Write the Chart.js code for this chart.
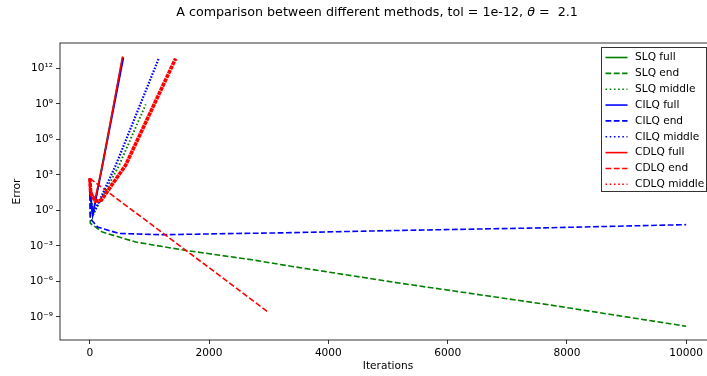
<!DOCTYPE html>
<html><head><meta charset="utf-8">
<script src="https://cdn.jsdelivr.net/npm/chart.js@4.4.0/dist/chart.umd.min.js"></script>
<style>
html,body{margin:0;padding:0;overflow:hidden;background:#fff;width:707px;height:376px}
#wrap{position:relative;width:754px;height:376px}
canvas{display:block}
</style></head><body>
<div id="wrap"><canvas id="c" width="754" height="376"></canvas></div>
<script>
// ---- text ----
const titleMain = 'A comparison between different methods, tol = 1e-12, ';
const titleSymbol = 'θ';
const titleTail = ' =  2.1';
const xAxisTitle = 'Iterations';
const yAxisTitle = 'Error';

// ---- ticks ----
const xTickValues = [0, 2000, 4000, 6000, 8000, 10000];
const yTickValues = [1e-9, 1e-6, 1e-3, 1, 1e3, 1e6, 1e9, 1e12];
const yTickLabels = ['10⁻⁹', '10⁻⁶', '10⁻³', '10⁰', '10³', '10⁶', '10⁹', '10¹²'];

// ---- series names ----
const seriesNames = ['SLQ full', 'SLQ end', 'SLQ middle', 'CILQ full', 'CILQ end', 'CILQ middle', 'CDLQ full', 'CDLQ end', 'CDLQ middle'];

// ---- series values (iteration, error) ----
const slqFullX = [0, 8, 45, 555];
const slqFullY = [500, 30, 0.4, 1e13];
const slqEndX = [0, 8, 210, 770, 1610, 2720, 3370, 5210, 7720, 10000];
const slqEndY = [500, 0.08, 0.0145, 0.0021, 4.1e-4, 6.6e-5, 1.9e-5, 6.9e-7, 1e-8, 1.6e-10];
const slqMidX = [0, 10, 50, 491, 938];
const slqMidY = [500, 20, 0.4, 6.5e3, 9e8];

const cilqFullX = [0, 8, 50, 214, 565];
const cilqFullY = [500, 30, 0.38, 6.5e3, 8e12];
const cilqEndX = [0, 8, 130, 486, 1220, 2160, 3230, 5260, 7720, 10000];
const cilqEndY = [500, 0.2, 0.039, 0.0112, 0.0087, 0.0105, 0.0126, 0.0204, 0.034, 0.062];
const cilqMidX = [0, 10, 50, 435, 1161];
const cilqMidY = [500, 20, 0.4, 6.5e3, 8e12];

const cdlqFullX = [0, 10, 85, 213, 547];
const cdlqFullY = [500, 50, 8, 6e3, 1e13];
const cdlqEndX = [0, 1690, 2980];
const cdlqEndY = [500, 2.1e-4, 2.75e-9];
const cdlqMidX = [0, 15, 90, 190, 600, 1440];
const cdlqMidY = [500, 30, 6, 7, 6.5e3, 7e12];

// ---- styles ----
const FONT = 'DejaVu Sans';
const FS = 10.6, TFS = 12.7;
const GREEN = '#008000', BLUE = '#0000ff', RED = '#ff0000';
const DASHED = [5.8, 2.5], DOTTED = [1.6, 2.6];

const seriesX = [slqFullX, slqEndX, slqMidX, cilqFullX, cilqEndX, cilqMidX, cdlqFullX, cdlqEndX, cdlqMidX];
const seriesY = [slqFullY, slqEndY, slqMidY, cilqFullY, cilqEndY, cilqMidY, cdlqFullY, cdlqEndY, cdlqMidY];
const seriesColor = [GREEN, GREEN, GREEN, BLUE, BLUE, BLUE, RED, RED, RED];
const seriesDash = [[], DASHED, DOTTED, [], DASHED, DOTTED, [], DASHED, DOTTED];
const plotDash = [[], DASHED, [1.6, 2], [], DASHED, [1.6, 1.5], [], DASHED, [4, 0.7]];
const plotWidth = [1.6, 1.6, 1.9, 1.6, 1.6, 2.2, 1.6, 1.6, 3.6];

const datasets = seriesNames.map((name, i) => ({
  label: name,
  data: seriesX[i].map((x, k) => ({x: x, y: seriesY[i][k]})),
  borderColor: seriesColor[i],
  backgroundColor: seriesColor[i],
  borderDash: plotDash[i],
  borderWidth: plotWidth[i],
  pointRadius: 0,
  tension: 0,
  fill: false,
  order: seriesNames.length - 1 - i
}));

const framePlugin = {
  id: 'frame',
  afterDatasetsDraw(chart) {
    const {ctx, chartArea: a} = chart;
    ctx.save();
    ctx.strokeStyle = '#000';
    ctx.lineWidth = 0.8;
    ctx.setLineDash([]);
    ctx.strokeRect(a.left, a.top, a.right - a.left, a.bottom - a.top);
    ctx.restore();
  }
};

const legendPlugin = {
  id: 'mplLegend',
  afterDraw(chart) {
    const ctx = chart.ctx;
    const bx = 601.5, by = 47.5, bw = 105, bh = 144;
    const rowY0 = 57.5, rowDy = 15.85, lx0 = 605.5, lx1 = 627.5, tx = 635;
    ctx.save();
    ctx.fillStyle = '#fff';
    ctx.fillRect(bx, by, bw, bh);
    ctx.strokeStyle = '#333';
    ctx.lineWidth = 1;
    ctx.setLineDash([]);
    ctx.strokeRect(bx, by, bw, bh);
    ctx.font = FS + 'px "' + FONT + '"';
    ctx.textBaseline = 'middle';
    ctx.textAlign = 'left';
    seriesNames.forEach((name, i) => {
      const y = rowY0 + i * rowDy;
      ctx.strokeStyle = seriesColor[i];
      ctx.lineWidth = 1.6;
      ctx.setLineDash(seriesDash[i]);
      ctx.beginPath();
      ctx.moveTo(lx0, y);
      ctx.lineTo(lx1, y);
      ctx.stroke();
      ctx.setLineDash([]);
      ctx.fillStyle = '#000';
      ctx.fillText(name, tx, y);
    });
    ctx.restore();
  }
};

const titlePlugin = {
  id: 'mplTitle',
  afterDraw(chart) {
    const ctx = chart.ctx;
    ctx.save();
    const normal = TFS + 'px "' + FONT + '"';
    const italic = 'italic ' + TFS + 'px "' + FONT + '"';
    ctx.font = normal; const w1 = ctx.measureText(titleMain).width;
    ctx.font = italic; const w2 = ctx.measureText(titleSymbol).width;
    ctx.font = normal; const w3 = ctx.measureText(titleTail).width;
    let x = 377 - (w1 + w2 + w3) / 2;
    const y = 12.5;
    ctx.fillStyle = '#000';
    ctx.textBaseline = 'middle';
    ctx.textAlign = 'left';
    ctx.font = normal; ctx.fillText(titleMain, x, y); x += w1;
    ctx.font = italic; ctx.fillText(titleSymbol, x, y); x += w2;
    ctx.font = normal; ctx.fillText(titleTail, x, y);
    ctx.restore();
  }
};

new Chart(document.getElementById('c'), {
  type: 'line',
  data: {datasets: datasets},
  options: {
    responsive: false,
    animation: false,
    devicePixelRatio: 1,
    layout: {padding: {top: 43, right: 38, left: 0, bottom: 0}},
    plugins: {legend: {display: false}, title: {display: false}, tooltip: {enabled: false}},
    scales: {
      x: {
        type: 'linear',
        min: -500,
        max: 10500,
        afterBuildTicks: (s) => { s.ticks = xTickValues.map(v => ({value: v})); },
        afterFit: (s) => { s.height = 36; },
        ticks: {color: '#000', font: {family: FONT, size: FS}, padding: 3, maxRotation: 0, autoSkip: false,
                callback: (v) => String(v)},
        grid: {drawOnChartArea: false, drawTicks: true, tickLength: 4, color: '#000', lineWidth: 0.8},
        border: {display: false},
        title: {display: true, text: xAxisTitle, color: '#000', font: {family: FONT, size: FS}, padding: {top: 4, bottom: 3}}
      },
      y: {
        type: 'logarithmic',
        min: 1.1e-11,
        max: 1.4e14,
        afterBuildTicks: (s) => { s.ticks = yTickValues.map(v => ({value: v})); },
        afterFit: (s) => { s.width = 60; },
        ticks: {color: '#000', font: {family: FONT, size: FS}, padding: 3, autoSkip: false,
                callback: (v) => {
                  const i = yTickValues.findIndex(t => Math.abs(Math.log10(t) - Math.log10(v)) < 1e-6);
                  return i >= 0 ? yTickLabels[i] : '';
                }},
        grid: {drawOnChartArea: false, drawTicks: true, tickLength: 4, color: '#000', lineWidth: 0.8},
        border: {display: false},
        title: {display: true, text: yAxisTitle, color: '#000', font: {family: FONT, size: FS}, padding: {top: 11, bottom: 4}}
      }
    }
  },
  plugins: [framePlugin, legendPlugin, titlePlugin]
});
</script>
</body></html>
